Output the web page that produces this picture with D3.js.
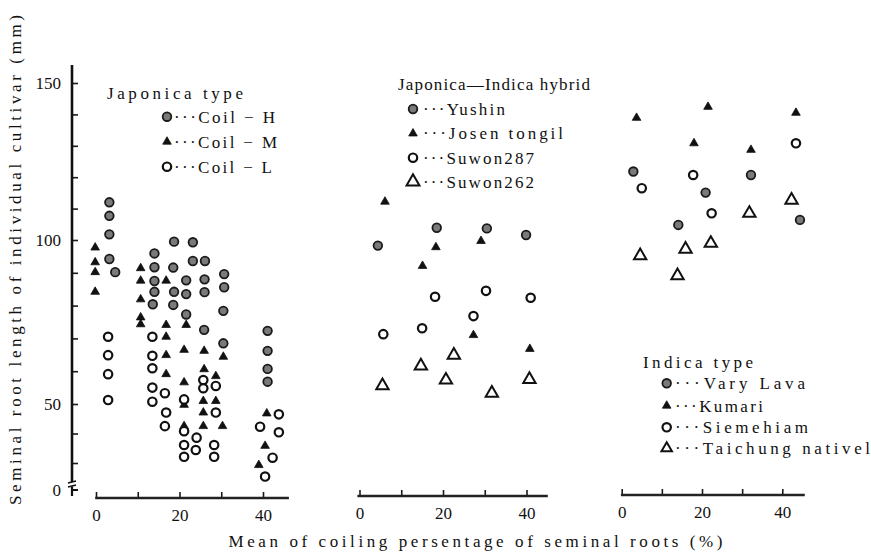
<!DOCTYPE html>
<html><head><meta charset="utf-8">
<script src="https://cdn.jsdelivr.net/npm/d3@7"></script>
<style>body{margin:0;background:#fff}svg text{font-family:"Liberation Serif","DejaVu Serif",serif;fill:#111}</style>
</head><body><svg id="c" width="871" height="557"></svg>
<script>
// ---------- data ----------
const yTicks = [30,40,50,60,70,80,90,100,110,120,130,140,150];
const yLabels = [50,100,150];
const xTicks = [0,10,20,30,40];
const xLabels = [0,20,40];
const yTitle = "Seminal root length of individual cultivar (mm)";
const xTitle = "Mean of coiling persentage of seminal roots (%)";
const groupTitles = ["Japonica type","Japonica\u2014Indica hybrid","Indica type"];

// Japonica type
const coilH = [[3.2,112.0],[3.2,107.7],[3.2,101.8],[3.2,94.2],[4.6,90.2],
  [18.7,99.5],[23.2,99.3],[14.0,95.9],[23.2,93.6],[26.1,93.6],
  [14.0,91.7],[18.5,91.6],[14.0,87.5],[21.6,87.7],[26.0,88.0],[30.7,89.6],
  [14.0,84.2],[18.7,84.2],[21.6,83.5],[26.0,84.1],[30.7,85.6],
  [13.6,80.4],[18.5,80.2],[21.6,77.3],[30.5,78.4],[25.9,72.6],[30.5,68.5],
  [41.1,72.3],[41.1,66.2],[41.1,60.7],[41.1,56.8]];
const coilM = [[-0.2,97.7],[-0.2,93.2],[-0.2,90.2],[-0.2,84.2],
  [10.7,91.4],[10.7,87.6],[16.8,87.6],[10.7,81.9],[10.7,76.4],[10.7,74.3],
  [16.8,74.1],[21.6,74.1],[16.8,70.5],[16.8,64.9],[21.1,66.5],[25.9,66.2],[30.5,64.4],
  [16.8,59.1],[21.1,56.6],[25.9,60.6],[28.7,58.5],[21.1,49.7],[25.7,50.9],[28.7,50.9],
  [25.7,47.1],[21.1,42.5],[25.7,42.5],[30.3,42.5],[40.9,46.8],[40.5,35.8],[39.0,29.3]];
const coilL = [[2.9,70.5],[2.9,64.9],[2.9,59.1],[2.9,51.2],
  [13.5,70.5],[13.5,64.7],[13.5,60.9],[13.5,55.0],[13.5,50.7],[16.5,53.3],[16.8,47.1],[16.5,42.5],
  [21.1,51.4],[25.7,57.3],[25.7,54.8],[28.7,55.5],[28.7,47.1],
  [21.1,40.8],[21.1,36.1],[21.1,32.1],[24.1,38.6],[23.9,34.4],[28.3,36.1],[28.3,32.1],
  [43.8,46.5],[39.3,42.3],[43.8,40.4],[42.3,31.8],[40.5,25.4]];
// Japonica-Indica hybrid
const yushin = [[4.4,98.3],[18.5,103.9],[30.5,103.7],[39.9,101.6]];
const josenTongil = [[6.1,112.2],[18.3,97.8],[29.1,99.7],[15.1,92.1],[27.3,71.0],[40.8,66.8]];
const suwon287 = [[18.1,82.7],[30.3,84.5],[41.0,82.4],[27.3,76.8],[15.0,73.1],[5.7,71.3]];
const suwon262 = [[22.6,64.9],[14.7,61.6],[20.7,57.3],[40.7,57.5],[5.5,55.6],[31.7,53.3]];
// Indica type
const varyLava = [[2.9,121.8],[32.2,120.7],[20.9,115.1],[44.4,106.4],[14.1,104.8]];
const kumari = [[3.7,138.9],[43.4,140.5],[18.0,130.8],[32.2,128.7],[21.5,142.4]];
const siemehiam = [[5.0,116.5],[17.8,120.7],[43.4,130.8],[22.4,108.5]];
const taichung = [[42.3,112.7],[31.8,108.5],[22.2,99.0],[15.9,97.2],[4.6,95.2],[13.9,89.1]];

const groups = [
  [{name:"\u00b7\u00b7\u00b7Coil \u2212 H", data:coilH, kind:"fc"},
   {name:"\u00b7\u00b7\u00b7Coil \u2212 M", data:coilM, kind:"ft"},
   {name:"\u00b7\u00b7\u00b7Coil \u2212 L", data:coilL, kind:"oc"}],
  [{name:"\u00b7\u00b7\u00b7Yushin", data:yushin, kind:"fc"},
   {name:"\u00b7\u00b7\u00b7Josen tongil", data:josenTongil, kind:"ft"},
   {name:"\u00b7\u00b7\u00b7Suwon287", data:suwon287, kind:"oc"},
   {name:"\u00b7\u00b7\u00b7Suwon262", data:suwon262, kind:"ot"}],
  [{name:"\u00b7\u00b7\u00b7Vary Lava", data:varyLava, kind:"fc"},
   {name:"\u00b7\u00b7\u00b7Kumari", data:kumari, kind:"ft"},
   {name:"\u00b7\u00b7\u00b7Siemehiam", data:siemehiam, kind:"oc"},
   {name:"\u00b7\u00b7\u00b7Taichung nativel", data:taichung, kind:"ot"}]
];

// ---------- layout ----------
const svg = d3.select("#c");
const yAxisX = 72;
const y = d3.scaleLinear().domain([30,50,100,150]).range([463,404,240,83]);
const panelRange = [[96,263],[359.5,526.5],[621.7,782.3]];
const baselines = [498,496,495];
const axisExt = [[-0.2,46.2],[-0.5,45.1],[-0.2,45.6]];
const legendLayout = [
  {tx:107, ty:93.3, tw:136, mx:167, lx:174, ys:[116.7,141.7,166.7], widths:[101,103,98], tri:62},
  {tx:398, ty:84.5, tw:192, mx:413, lx:423, ys:[109,133.5,157.7,181.7], widths:[82,140,111,111], tri:72},
  {tx:643, ty:361.7, tw:110, mx:666.7, lx:675, ys:[383.3,405.7,427.3,448.3], widths:[130,88,133,195], tri:48}
];

function drawMarker(g, kind, cx, cy, triSize) {
  if (kind === "fc") {
    g.append("circle").attr("cx",cx).attr("cy",cy).attr("r",4.3)
      .attr("fill","#7a7a7a").attr("stroke","#1a1a1a").attr("stroke-width",1.8);
  } else if (kind === "oc") {
    g.append("circle").attr("cx",cx).attr("cy",cy).attr("r",4.2)
      .attr("fill","#fff").attr("stroke","#111").attr("stroke-width",2.2);
  } else if (kind === "ft") {
    g.append("path").attr("d", d3.symbol(d3.symbolTriangle, 32)())
      .attr("transform",`translate(${cx},${cy})`)
      .attr("fill","#111").attr("stroke","#111").attr("stroke-width",0.8);
  } else {
    g.append("path").attr("d", d3.symbol(d3.symbolTriangle, triSize)())
      .attr("transform",`translate(${cx},${cy})`)
      .attr("fill","#fff").attr("stroke","#111").attr("stroke-width",2);
  }
}

// ---------- y axis ----------
const yAxisG = svg.append("g").attr("transform",`translate(${yAxisX},0)`)
  .call(d3.axisLeft(y).tickValues(yTicks).tickSizeInner(-6).tickSizeOuter(0).tickPadding(11)
    .tickFormat(d => yLabels.includes(d) ? d : ""));
yAxisG.select(".domain").remove();
yAxisG.selectAll(".tick line").attr("stroke","#1a1a1a").attr("stroke-width",1.6);
yAxisG.selectAll(".tick text").attr("font-size",17).attr("font-family","Liberation Serif");
yAxisG.append("line").attr("x1",0).attr("x2",0).attr("y1",65).attr("y2",482)
  .attr("stroke","#111").attr("stroke-width",2.6);
// axis break and the zero mark
yAxisG.append("path").attr("d","M-4,483 L4,481 M-4,487 L4,485")
  .attr("stroke","#111").attr("stroke-width",1.6).attr("fill","none");
yAxisG.append("path").attr("d","M0,486.5 L0,496 M0,490 L6,490")
  .attr("stroke","#111").attr("stroke-width",2.2).attr("fill","none");
yAxisG.append("text").attr("x",-11).attr("y",490).attr("dy","0.35em")
  .attr("text-anchor","end").attr("font-size",17).text("0");

// ---------- panels ----------
groups.forEach((series, i) => {
  const x = d3.scaleLinear().domain([0,40]).range(panelRange[i]);
  const base = baselines[i];
  const ax = svg.append("g").attr("transform",`translate(0,${base})`)
    .call(d3.axisBottom(x).tickValues(xTicks).tickSizeInner(-6).tickSizeOuter(0).tickPadding(11)
      .tickFormat(d => xLabels.includes(d) ? d : ""));
  ax.select(".domain").remove();
  ax.selectAll(".tick line").attr("stroke","#1a1a1a").attr("stroke-width",1.6);
  ax.selectAll(".tick text").attr("font-size",17).attr("font-family","Liberation Serif");
  ax.append("line").attr("x1",x(axisExt[i][0])).attr("x2",x(axisExt[i][1]))
    .attr("y1",0).attr("y2",0).attr("stroke","#222").attr("stroke-width",2.6);

  const L = legendLayout[i];
  const pg = svg.append("g");
  series.forEach(s => {
    s.data.forEach(d => drawMarker(pg, s.kind, x(d[0]), y(d[1]), 66));
  });
  // legend
  const lg = svg.append("g");
  lg.append("text").attr("x",L.tx).attr("y",L.ty).attr("dy","0.35em").attr("font-size",17)
    .attr("textLength",L.tw).attr("lengthAdjust","spacing").text(groupTitles[i]);
  series.forEach((s, j) => {
    drawMarker(lg, s.kind, L.mx, L.ys[j], L.tri);
    lg.append("text").attr("x",L.lx).attr("y",L.ys[j]).attr("dy","0.35em").attr("font-size",17)
      .attr("textLength",L.widths[j]).attr("lengthAdjust","spacing").text(s.name);
  });
});

// ---------- titles ----------
svg.append("text").attr("x",475.5).attr("y",541).attr("dy","0.35em").attr("text-anchor","middle")
  .attr("font-size",17).attr("textLength",494).attr("lengthAdjust","spacing").text(xTitle);
svg.append("text").attr("transform","translate(15,260) rotate(-90)").attr("dy","0.35em")
  .attr("text-anchor","middle").attr("font-size",17).attr("textLength",490)
  .attr("lengthAdjust","spacing").text(yTitle);
</script></body></html>
